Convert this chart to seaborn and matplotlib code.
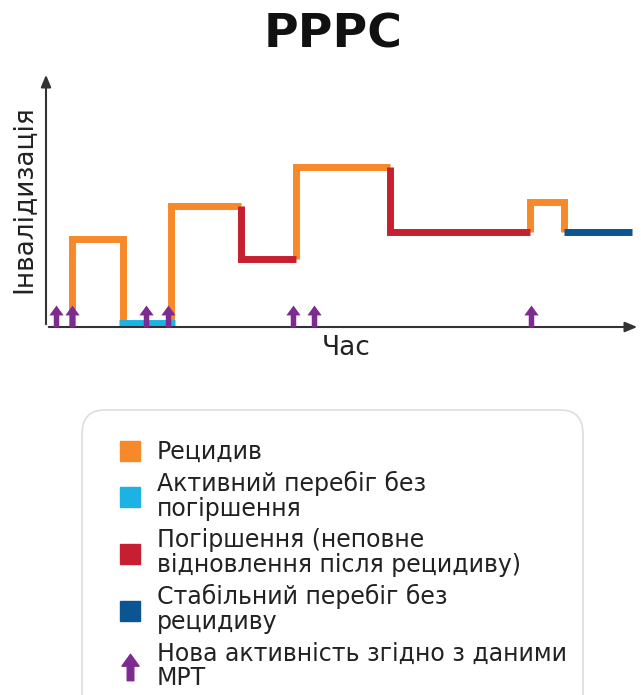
"""РРРС: disability course over time, with MRI activity markers."""

import matplotlib.pyplot as plt
import numpy as np
import pandas as pd
import seaborn as sns
from matplotlib.lines import Line2D
from matplotlib.markers import MarkerStyle
from matplotlib.patches import FancyBboxPatch
from matplotlib.path import Path


# Data: step course, one polyline per segment.
seg_state = ["relapse", "active", "relapse", "worse", "relapse", "worse", "relapse", "stable"]
seg_time = [
    [4.3, 4.3, 13.0, 13.0],
    [12.3, 21.7],
    [21.0, 21.0, 32.8],
    [32.8, 32.8, 42.1],
    [42.1, 42.1, 57.9],
    [57.9, 57.9, 81.5],
    [81.5, 81.5, 87.2, 87.2],
    [87.2, 98.7],
]
seg_level = [
    [0.0, 3.45, 3.45, 0.0],
    [0.15, 0.15],
    [0.0, 4.75, 4.75],
    [4.75, 2.67, 2.67],
    [2.67, 6.27, 6.27],
    [6.27, 3.73, 3.73],
    [3.73, 4.9, 4.9, 3.73],
    [3.73, 3.73],
]
mri_time = [1.7, 4.3, 16.8, 20.5, 41.6, 45.1, 81.6]

state_labels = {
    "relapse": "Рецидив",
    "active": "Активний перебіг без\nпогіршення",
    "worse": "Погіршення (неповне\nвідновлення після рецидиву)",
    "stable": "Стабільний перебіг без\nрецидиву",
}
mri_label = "Нова активність згідно з даними\nМРТ"
palette = {
    "relapse": "#F7892A",
    "active": "#1DB2E4",
    "worse": "#C62030",
    "stable": "#0B5592",
}
purple = "#7E2B8F"
axis_color = "#333333"

# Long table for seaborn.
rows = []
for i, (state, ts, ls) in enumerate(zip(seg_state, seg_time, seg_level)):
    for t, lv in zip(ts, ls):
        rows.append({"segment": i, "state": state, "time": t, "level": lv})
df = pd.DataFrame(rows)
mri = pd.DataFrame({"time": mri_time, "level": np.zeros(len(mri_time))})

# Up-arrow marker, base at the point.
arrow_verts = [(-0.25, 0), (0.25, 0), (0.25, 1.1), (0.65, 1.1), (0, 2.0),
               (-0.65, 1.1), (-0.25, 1.1), (-0.25, 0)]
arrow_codes = [Path.MOVETO] + [Path.LINETO] * 6 + [Path.CLOSEPOLY]
arrow_marker = MarkerStyle(Path(arrow_verts, arrow_codes))
# Centred version for the legend.
arrow_legend = MarkerStyle(Path([(x, y - 1) for x, y in arrow_verts], arrow_codes))

sns.set_theme(style="white")
plt.rcParams["font.family"] = ["DejaVu Sans"]

fig = plt.figure(figsize=(6.41, 6.95), dpi=100)
ax = fig.add_axes([46 / 641, 1 - 327 / 695, 594 / 641, 255 / 695])

sns.lineplot(
    data=df, x="time", y="level", hue="state", units="segment",
    estimator=None, sort=False, palette=palette, legend=False,
    linewidth=5, solid_joinstyle="miter", solid_capstyle="butt", ax=ax,
)
sns.scatterplot(
    data=mri, x="time", y="level", marker=arrow_marker, s=1000,
    color=purple, linewidth=0, zorder=5, clip_on=False, ax=ax,
)

ax.set_xlim(0, 100)
ax.set_ylim(0, 10)
ax.set_xticks([])
ax.set_yticks([])
for spine in ax.spines.values():
    spine.set_visible(False)

# Axis arrows.
arrow_kw = dict(arrowstyle="-|>,head_length=0.6,head_width=0.25", color=axis_color, lw=1.5)
ax.annotate("", xy=(1.0, 0), xytext=(0, 0), xycoords="axes fraction", arrowprops=arrow_kw)
ax.annotate("", xy=(0, 1.0), xytext=(0, 0), xycoords="axes fraction", arrowprops=arrow_kw)

ax.set_xlabel("Час", fontsize=19, color="#222222")
ax.set_ylabel("Інвалідизація", fontsize=19, color="#222222")
ax.xaxis.set_label_coords(0.506, -0.03)
ax.yaxis.set_label_coords(-0.014, 0.5)

fig.text(0.52, 1 - 35 / 695, "РРРС", fontsize=34, fontweight="bold",
         ha="center", va="center", color="#111111")

# Legend frame.
frame = FancyBboxPatch(
    (82 / 641, -0.05), (583 - 82) / 641, 0.05 + 1 - 410 / 695,
    boxstyle="round,pad=0,rounding_size=0.035", transform=fig.transFigure,
    facecolor="white", edgecolor="#dddddd", linewidth=1.2,
)
fig.patches.append(frame)

handles = [
    Line2D([], [], marker="s", ms=15, color=palette[s], linestyle="none")
    for s in ["relapse", "active", "worse", "stable"]
]
handles.append(Line2D([], [], marker=arrow_legend, ms=19, color=purple, linestyle="none"))
labels = [state_labels[s] for s in ["relapse", "active", "worse", "stable"]] + [mri_label]
leg = fig.legend(
    handles, labels, loc="upper left", bbox_to_anchor=(119 / 641, 1 - 440 / 695),
    frameon=False, fontsize=17, borderpad=0, borderaxespad=0,
    handlelength=0.95, handletextpad=0.65,
    labelspacing=0.3, labelcolor="#222222",
)
for t in leg.get_texts():
    t.set_linespacing(1.05)

fig.savefig("out.png", dpi=100)
